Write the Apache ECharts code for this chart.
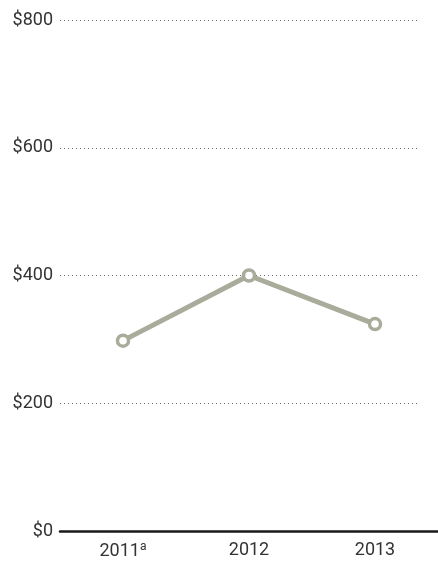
<!DOCTYPE html>
<html><head><meta charset="utf-8">
<script src="https://cdn.jsdelivr.net/npm/echarts@6/dist/echarts.min.js"></script>
<style>html,body{margin:0;padding:0;background:#fff}#c{width:438px;height:561px}</style>
</head><body><div id="c"></div>
<script>
const categories = ['2011', '2012', '2013'];
const categoryNotes = ['a', '', ''];
const values = [298, 400, 324];
const yTicks = [0, 200, 400, 600, 800];

const FONT = 'Roboto, "Liberation Sans", sans-serif';
const chart = echarts.init(document.getElementById('c'));
chart.setOption({
  animation: false,
  grid: [
    { left: 60, right: 18, top: 20, bottom: 30 },
    { left: 60, right: -3, top: 20, bottom: 30 }
  ],
  xAxis: [
    { gridIndex: 0, type: 'category', data: categories, show: false },
    {
      gridIndex: 1, type: 'category', data: categories,
      axisLine: { lineStyle: { color: '#1a1a1a', width: 2.5 } },
      axisTick: { show: false },
      axisLabel: {
        margin: 10, color: '#333', fontFamily: FONT, fontSize: 18,
        formatter: (v, i) => categoryNotes[i] ? v + '{sup|' + categoryNotes[i] + '}' : v,
        rich: { sup: { fontSize: 12, verticalAlign: 'top', padding: [0, 0, 8, 0], color: '#333', fontFamily: FONT } }
      }
    }
  ],
  yAxis: [
    {
      gridIndex: 0, type: 'value', min: yTicks[0], max: yTicks[yTicks.length - 1], interval: 200,
      axisLine: { show: false }, axisTick: { show: false },
      axisLabel: { margin: 7, color: '#333', fontFamily: FONT, fontSize: 18, formatter: v => '$' + v },
      splitLine: { lineStyle: { color: '#666', type: [1, 3], width: 1 } }
    },
    { gridIndex: 1, type: 'value', min: 0, max: 800, show: false, splitLine: { show: false } }
  ],
  series: [{
    type: 'line', xAxisIndex: 1, yAxisIndex: 1, data: values,
    lineStyle: { color: '#a9ac9a', width: 5 },
    symbol: 'circle', symbolSize: 11,
    itemStyle: { color: '#fff', borderColor: '#a9ac9a', borderWidth: 3.5 },
    z: 5
  }]
});
</script></body></html>
